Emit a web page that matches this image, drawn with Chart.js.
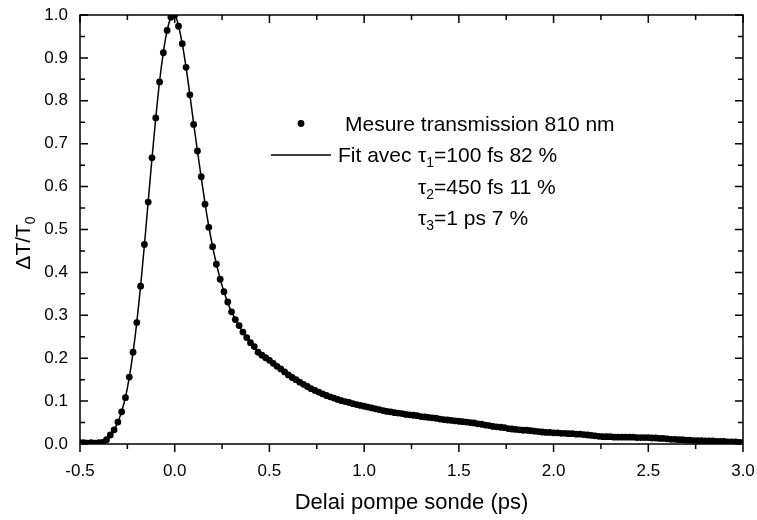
<!DOCTYPE html>
<html>
<head>
<meta charset="utf-8">
<script src="https://cdn.jsdelivr.net/npm/chart.js@4.4.0/dist/chart.umd.min.js"></script>
<style>
  html, body { margin: 0; padding: 0; background: #fff; }
  #wrap { width: 757px; height: 520px; }
</style>
</head>
<body>
<div id="wrap"><canvas id="chart"></canvas></div>
<script>
// measured transmission (ps, dT/T0)
const delays = [
  -0.50,-0.48,-0.46,-0.44,-0.42,-0.40,-0.38,-0.36,-0.34,-0.32,
  -0.30,-0.28,-0.26,-0.24,-0.22,-0.20,-0.18,-0.16,-0.14,-0.12,
  -0.10,-0.08,-0.06,-0.04,-0.02,0.00,0.02,0.04,0.06,0.08,
  0.10,0.12,0.14,0.16,0.18,0.20,0.22,0.24,0.26,0.28,
  0.30,0.32,0.34,0.36,0.38,0.40,0.42,0.44,0.46,0.48,
  0.50,0.52,0.54,0.56,0.58,0.60,0.62,0.64,0.66,0.68,
  0.70,0.72,0.74,0.76,0.78,0.80,0.82,0.84,0.86,0.88,
  0.90,0.92,0.94,0.96,0.98,1.00,1.02,1.04,1.06,1.08,
  1.10,1.12,1.14,1.16,1.18,1.20,1.22,1.24,1.26,1.28,
  1.30,1.32,1.34,1.36,1.38,1.40,1.42,1.44,1.46,1.48,
  1.50,1.52,1.54,1.56,1.58,1.60,1.62,1.64,1.66,1.68,
  1.70,1.72,1.74,1.76,1.78,1.80,1.82,1.84,1.86,1.88,
  1.90,1.92,1.94,1.96,1.98,2.00,2.02,2.04,2.06,2.08,
  2.10,2.12,2.14,2.16,2.18,2.20,2.22,2.24,2.26,2.28,
  2.30,2.32,2.34,2.36,2.38,2.40,2.42,2.44,2.46,2.48,
  2.50,2.52,2.54,2.56,2.58,2.60,2.62,2.64,2.66,2.68,
  2.70,2.72,2.74,2.76,2.78,2.80,2.82,2.84,2.86,2.88,
  2.90,2.92,2.94,2.96,2.98,3.00
];
const signal = [
  0.003,0.003,0.002,0.003,0.002,0.003,0.004,0.010,0.021,0.033,
  0.051,0.075,0.108,0.156,0.214,0.283,0.368,0.465,0.564,0.667,
  0.760,0.844,0.912,0.964,0.995,1.000,0.974,0.933,0.878,0.814,
  0.745,0.683,0.623,0.559,0.505,0.460,0.419,0.384,0.355,0.331,
  0.308,0.290,0.276,0.261,0.248,0.236,0.227,0.214,0.207,0.201,
  0.195,0.188,0.181,0.175,0.168,0.161,0.155,0.150,0.144,0.139,
  0.134,0.129,0.125,0.121,0.117,0.113,0.110,0.107,0.104,0.101,
  0.099,0.097,0.094,0.092,0.090,0.088,0.086,0.084,0.082,0.080,
  0.078,0.076,0.075,0.073,0.072,0.071,0.069,0.068,0.067,0.066,
  0.064,0.063,0.062,0.061,0.060,0.058,0.057,0.056,0.055,0.054,
  0.053,0.052,0.051,0.050,0.049,0.047,0.046,0.044,0.043,0.041,
  0.040,0.039,0.038,0.036,0.035,0.034,0.033,0.032,0.032,0.031,
  0.030,0.029,0.028,0.027,0.027,0.026,0.026,0.025,0.025,0.024,
  0.024,0.023,0.023,0.022,0.021,0.020,0.019,0.018,0.017,0.017,
  0.017,0.016,0.016,0.016,0.016,0.016,0.016,0.015,0.015,0.015,
  0.015,0.014,0.014,0.013,0.013,0.012,0.011,0.011,0.010,0.010,
  0.009,0.009,0.008,0.008,0.008,0.007,0.007,0.007,0.006,0.006,
  0.006,0.005,0.005,0.005,0.004,0.004
];

// fit curve
const fitDelays = [
  -0.50,-0.46,-0.42,-0.40,-0.38,-0.36,-0.34,-0.32,-0.30,-0.28,-0.26,-0.24,-0.22,-0.20,
  -0.18,-0.16,-0.14,-0.12,-0.10,-0.08,-0.06,-0.04,-0.02,0.00,0.02,0.04,0.06,0.08,0.10,
  0.12,0.14,0.16,0.18,0.20,0.22,0.24,0.26,0.28,0.30,
  0.34,0.38,0.42,0.46,0.50,0.60,0.70,0.80,0.90,1.00,
  1.20,1.40,1.60,1.80,2.00,2.25,2.50,2.75,3.00
];
const fitSignal = [
  0.000,0.000,0.001,0.002,0.005,0.011,0.020,0.033,0.051,0.076,0.109,0.155,0.213,0.284,
  0.368,0.464,0.565,0.666,0.760,0.845,0.913,0.964,0.994,1.000,0.975,0.932,0.878,0.814,0.747,
  0.683,0.621,0.561,0.507,0.460,0.420,0.385,0.355,0.330,0.308,
  0.275,0.249,0.226,0.207,0.195,0.162,0.135,0.114,0.098,0.088,
  0.071,0.058,0.048,0.034,0.026,0.018,0.015,0.008,0.004
];

const xTicks = [-0.5, 0.0, 0.5, 1.0, 1.5, 2.0, 2.5, 3.0];
const xMinor = [-0.25, 0.25, 0.75, 1.25, 1.75, 2.25, 2.75];
const yTicks = [0.0, 0.1, 0.2, 0.3, 0.4, 0.5, 0.6, 0.7, 0.8, 0.9, 1.0];
const yMinor = [0.05, 0.15, 0.25, 0.35, 0.45, 0.55, 0.65, 0.75, 0.85, 0.95];

const legendLines = [
  { sub: "1", rest: "=100 fs 82 %" },
  { sub: "2", rest: "=450 fs 11 %" },
  { sub: "3", rest: "=1 ps 7 %" }
];

const FONT = "'Liberation Sans', Arial, sans-serif";

const framePlugin = {
  id: "frame",
  afterDraw(chart) {
    const ctx = chart.ctx;
    const { left, right, top, bottom } = chart.chartArea;
    const xs = chart.scales.x, ys = chart.scales.y;
    ctx.save();
    ctx.strokeStyle = "#000";
    ctx.lineWidth = 1.5;
    ctx.strokeRect(left, top, right - left, bottom - top);

    ctx.beginPath();
    // bottom ticks point out, top ticks point in
    xTicks.forEach(v => {
      const px = xs.getPixelForValue(v);
      ctx.moveTo(px, bottom); ctx.lineTo(px, bottom + 8);
      ctx.moveTo(px, top); ctx.lineTo(px, top + 8);
    });
    xMinor.forEach(v => {
      const px = xs.getPixelForValue(v);
      ctx.moveTo(px, bottom); ctx.lineTo(px, bottom + 5);
      ctx.moveTo(px, top); ctx.lineTo(px, top + 5);
    });
    // left and right ticks point in
    yTicks.forEach(v => {
      const py = ys.getPixelForValue(v);
      ctx.moveTo(left, py); ctx.lineTo(left + 8, py);
      ctx.moveTo(right, py); ctx.lineTo(right - 8, py);
    });
    yMinor.forEach(v => {
      const py = ys.getPixelForValue(v);
      ctx.moveTo(left, py); ctx.lineTo(left + 5, py);
      ctx.moveTo(right, py); ctx.lineTo(right - 5, py);
    });
    ctx.stroke();

    // y title with subscript
    ctx.fillStyle = "#000";
    ctx.translate(30, 243);
    ctx.rotate(-Math.PI / 2);
    ctx.font = "21px " + FONT;
    const main = "\u0394T/T";
    const wMain = ctx.measureText(main).width;
    ctx.font = "14px " + FONT;
    const wSub = ctx.measureText("0").width;
    const start = -(wMain + wSub) / 2;
    ctx.font = "21px " + FONT;
    ctx.textBaseline = "alphabetic";
    ctx.fillText(main, start, 0);
    ctx.font = "14px " + FONT;
    ctx.fillText("0", start + wMain, 5);
    ctx.restore();

    // legend
    ctx.save();
    ctx.fillStyle = "#000";
    ctx.strokeStyle = "#000";
    ctx.beginPath();
    ctx.arc(301, 123.5, 3.4, 0, Math.PI * 2);
    ctx.fill();
    ctx.lineWidth = 1.5;
    ctx.beginPath();
    ctx.moveTo(271, 155); ctx.lineTo(331, 155);
    ctx.stroke();
    ctx.font = "21px " + FONT;
    ctx.textBaseline = "alphabetic";
    ctx.fillText("Mesure transmission 810 nm", 345, 131);
    ctx.fillText("Fit avec", 338, 162);
    legendLines.forEach((l, i) => {
      const y = 162 + i * 31.5;
      let x = 418;
      ctx.font = "21px " + FONT;
      ctx.fillText("\u03C4", x, y);
      x += ctx.measureText("\u03C4").width;
      ctx.font = "14px " + FONT;
      ctx.fillText(l.sub, x, y + 5);
      x += ctx.measureText(l.sub).width;
      ctx.font = "21px " + FONT;
      ctx.fillText(l.rest, x, y);
    });
    ctx.restore();
  }
};

new Chart(document.getElementById("chart"), {
  type: "line",
  data: {
    datasets: [
      {
        label: "Mesure transmission 810 nm",
        data: delays.map((d, i) => ({ x: d, y: signal[i] })),
        showLine: false,
        pointRadius: 3.4,
        pointBackgroundColor: "#000",
        pointBorderWidth: 0,
        clip: 0
      },
      {
        label: "Fit",
        data: fitDelays.map((d, i) => ({ x: d, y: fitSignal[i] })),
        borderColor: "#000",
        borderWidth: 1.5,
        pointRadius: 0,
        cubicInterpolationMode: "monotone",
        clip: 0
      }
    ]
  },
  options: {
    responsive: true,
    maintainAspectRatio: false,
    animation: false,
    layout: { padding: { top: 15, right: 14, left: 0, bottom: 0 } },
    plugins: { legend: { display: false }, tooltip: { enabled: false } },
    scales: {
      x: {
        type: "linear",
        min: -0.5,
        max: 3.0,
        afterBuildTicks: s => { s.ticks = xTicks.map(v => ({ value: v })); },
        afterFit: s => { s.height = 76; s.paddingLeft = 0; s.paddingRight = 0; },
        grid: { display: false, drawTicks: false },
        border: { display: false },
        ticks: {
          padding: 17,
          color: "#000",
          font: { family: FONT, size: 17 },
          callback: v => v.toFixed(1)
        },
        title: {
          display: true,
          text: "Delai pompe sonde (ps)",
          color: "#000",
          font: { family: FONT, size: 22 },
          padding: { top: 4 }
        }
      },
      y: {
        min: 0,
        max: 1.0,
        afterBuildTicks: s => { s.ticks = yTicks.map(v => ({ value: v })); },
        afterFit: s => { s.width = 80; s.paddingTop = 0; s.paddingBottom = 0; },
        grid: { display: false, drawTicks: false },
        border: { display: false },
        ticks: {
          padding: 12,
          color: "#000",
          font: { family: FONT, size: 17 },
          callback: v => v.toFixed(1)
        }
      }
    }
  },
  plugins: [framePlugin]
});
</script>
</body>
</html>
